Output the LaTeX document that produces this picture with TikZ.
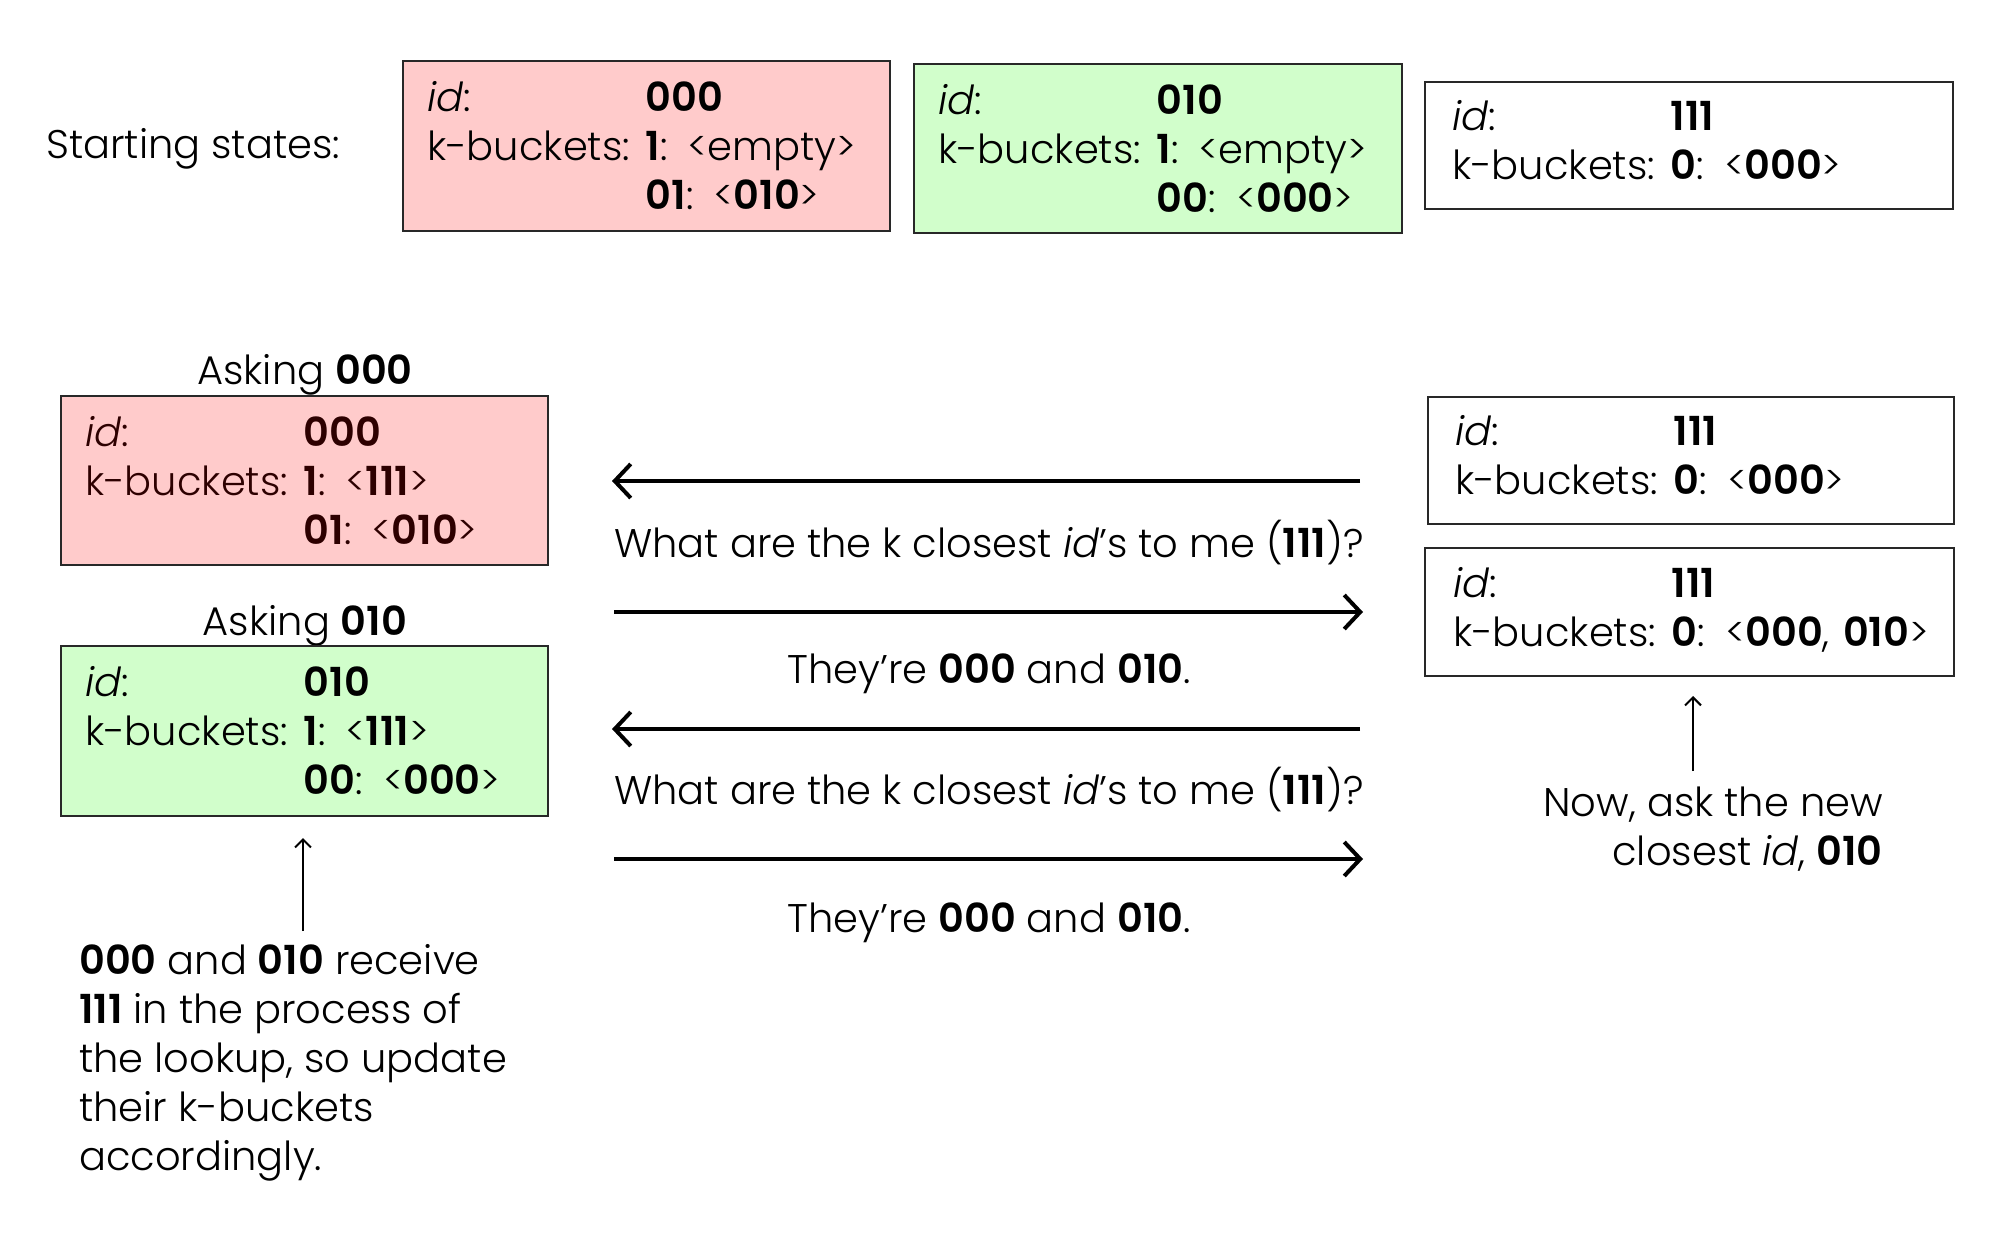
\documentclass[tikz,border=0pt]{standalone}
\usepackage{fontspec}
\setmainfont{Poppins}[UprightFont=* Light, BoldFont=* SemiBold, ItalicFont=* Light Italic, BoldItalicFont=* SemiBold Italic]
\usetikzlibrary{arrows.meta}
\definecolor{redfill}{RGB}{255,203,203}
\definecolor{greenfill}{RGB}{209,254,203}
\definecolor{boxline}{RGB}{40,40,40}
\definecolor{darkred}{RGB}{45,0,0}
\newenvironment{kbtab}{\begin{tabular}{@{}l@{\hspace{16pt}}l@{}}}{\end{tabular}}
\newcommand{\down}[1]{\raisebox{-5pt}[\height][\depth]{#1}}
\begin{document}
\begin{tikzpicture}[x=1pt,y=-1pt,
  every node/.style={font=\fontsize{40}{49}\selectfont, inner sep=0pt},
  statebox/.style={draw=boxline, line width=2pt, align=left, inner ysep=0pt},
  bigarrow/.style={line width=4pt, -{Straight Barb[length=16pt,width=34pt,line width=4pt]}},
  smallarrow/.style={line width=2pt, -{Straight Barb[length=8pt,width=16pt,line width=2pt]}}]
\useasboundingbox (0,0) rectangle (1999,1258);

\node[anchor=west] (start) at (46,149) {Starting states:};

\node[statebox, fill=redfill, minimum width=487pt, minimum height=170pt, text width=439pt] (s000) at (646.5,146)
  {\down{\begin{kbtab}\textit{id}: & \textbf{000}\\ k-buckets: & \textbf{1}: <empty>\\ & \textbf{01}: <\textbf{010}>\end{kbtab}}};
\node[statebox, fill=greenfill, minimum width=488pt, minimum height=169pt, text width=440pt] (s010) at (1158,148.5)
  {\down{\begin{kbtab}\textit{id}: & \textbf{010}\\ k-buckets: & \textbf{1}: <empty>\\ & \textbf{00}: <\textbf{000}>\end{kbtab}}};
\node[statebox, fill=white, minimum width=528pt, minimum height=127pt, text width=474pt] (s111) at (1689,145.5)
  {\begin{kbtab}\textit{id}: & \textbf{111}\\ k-buckets: & \textbf{0}: <\textbf{000}>\end{kbtab}};

\node (ask0) at (305,375) {Asking \textbf{000}};
\node[statebox, fill=redfill, minimum width=487pt, minimum height=169pt, text width=439pt, text=darkred] (a000) at (304.5,480.5)
  {\down{\begin{kbtab}\textit{id}: & \textbf{000}\\ k-buckets: & \textbf{1}: <\textbf{111}>\\ & \textbf{01}: <\textbf{010}>\end{kbtab}}};
\node (ask1) at (305,626) {Asking \textbf{010}};
\node[statebox, fill=greenfill, minimum width=487pt, minimum height=170pt, text width=439pt] (a010) at (304.5,731)
  {\down{\begin{kbtab}\textit{id}: & \textbf{010}\\ k-buckets: & \textbf{1}: <\textbf{111}>\\ & \textbf{00}: <\textbf{000}>\end{kbtab}}};

\node[statebox, fill=white, minimum width=526pt, minimum height=127pt, text width=472pt] (r1) at (1691,460.5)
  {\begin{kbtab}\textit{id}: & \textbf{111}\\ k-buckets: & \textbf{0}: <\textbf{000}>\end{kbtab}};
\node[statebox, fill=white, minimum width=529pt, minimum height=128pt, text width=473pt] (r2) at (1689.5,612)
  {\begin{kbtab}\textit{id}: & \textbf{111}\\ k-buckets: & \textbf{0}: <\textbf{000}, \textbf{010}>\end{kbtab}};

\node (q1) at (989,543) {What are the k closest \textit{id}’s to me (\textbf{111})?};
\node (t1) at (989,674) {They’re \textbf{000} and \textbf{010}.};
\node (q2) at (989,790) {What are the k closest \textit{id}’s to me (\textbf{111})?};
\node (t2) at (989,923) {They’re \textbf{000} and \textbf{010}.};

\coordinate (l1s) at (1360,481); \coordinate (l1e) at (612,481);
\coordinate (r1s) at (614,612);  \coordinate (r1e) at (1363,612);
\coordinate (l2s) at (1360,729); \coordinate (l2e) at (612,729);
\coordinate (r2s) at (614,859);  \coordinate (r2e) at (1363,859);
\draw[bigarrow] (l1s) -- (l1e);
\draw[bigarrow] (r1s) -- (r1e);
\draw[bigarrow] (l2s) -- (l2e);
\draw[bigarrow] (r2s) -- (r2e);

\node[anchor=west, align=left] (note) at (79,1063)
  {\textbf{000} and \textbf{010} receive\\ \textbf{111} in the process of\\ the lookup, so update\\ their k-buckets\\ accordingly.};
\node[anchor=east, align=right] (now) at (1883,829)
  {Now, ask the new\\ closest \textit{id}, \textbf{010}};

\coordinate (upls) at (303,931); \coordinate (uple) at (303,838);
\coordinate (uprs) at (1693,771); \coordinate (upre) at (1693,696);
\draw[smallarrow] (upls) -- (uple);
\draw[smallarrow] (uprs) -- (upre);
\end{tikzpicture}
\end{document}
